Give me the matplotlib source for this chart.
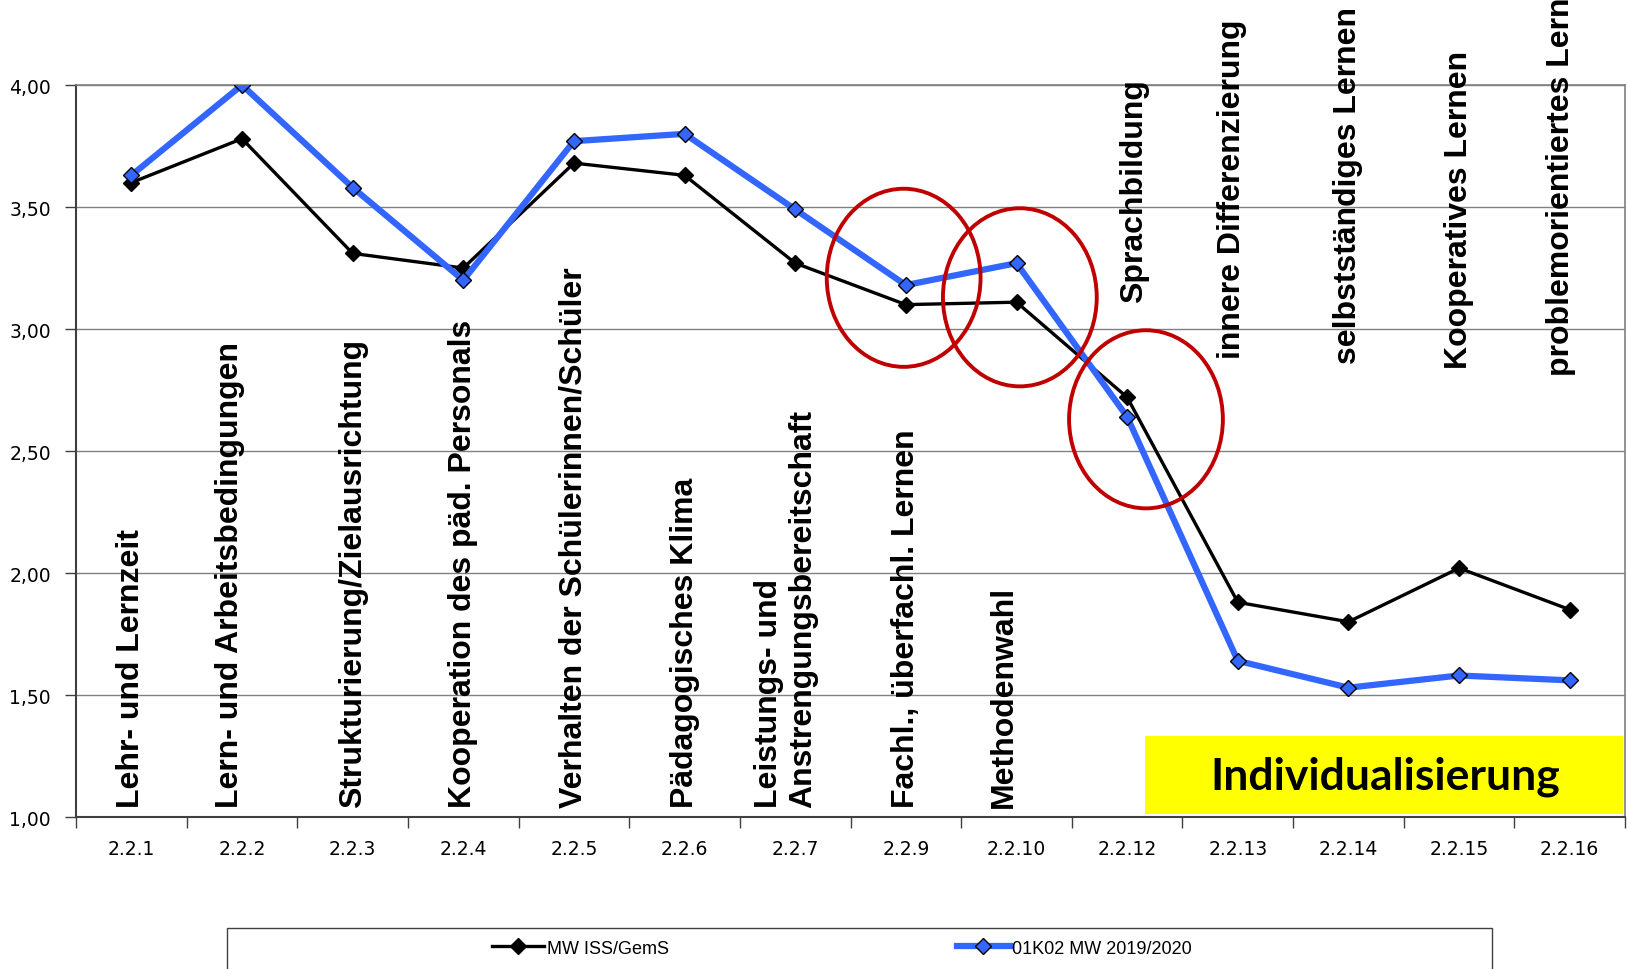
import matplotlib.pyplot as plt
from matplotlib.patches import Ellipse, Rectangle
from matplotlib.lines import Line2D

# Data
codes = ["2.2.1", "2.2.2", "2.2.3", "2.2.4", "2.2.5", "2.2.6", "2.2.7",
         "2.2.9", "2.2.10", "2.2.12", "2.2.13", "2.2.14", "2.2.15", "2.2.16"]
names = [
    "Lehr- und Lernzeit",
    "Lern- und Arbeitsbedingungen",
    "Strukturierung/Zielausrichtung",
    "Kooperation des päd. Personals",
    "Verhalten der Schülerinnen/Schüler",
    "Pädagogisches Klima",
    "Leistungs- und\nAnstrengungsbereitschaft",
    "Fachl., überfachl. Lernen",
    "Methodenwahl",
    "Sprachbildung",
    "innere Differenzierung",
    "selbstständiges Lernen",
    "Kooperatives Lernen",
    "problemorientiertes Lernen",
]
mw_iss = [3.60, 3.78, 3.31, 3.25, 3.68, 3.63, 3.27, 3.10, 3.11, 2.72, 1.88, 1.80, 2.02, 1.85]
k02 = [3.63, 4.00, 3.58, 3.20, 3.77, 3.80, 3.49, 3.18, 3.27, 2.64, 1.64, 1.53, 1.58, 1.56]
series_names = ["MW ISS/GemS", "01K02 MW 2019/2020"]

# label placement (bottom of rotated text, in data units) and small x shifts
label_base = [1.04] * 9 + [3.11, 2.88, 2.86, 2.84, 2.81]
label_dx = [0, -0.11, 0, 0, 0, 0, -0.08, 0, -0.11, 0.06, -0.05, 0, 0, -0.08]

black = "#000000"
blue = "#3366ff"
red = "#c00000"
grey = "#808080"

fig = plt.figure(figsize=(16.28, 9.70), dpi=100)
ax = fig.add_axes([0.0467, 0.1567, 0.9515, 0.7546])

x = list(range(len(codes)))

ax.plot(x, mw_iss, color=black, lw=2.4, marker="D", ms=8,
        mfc=black, mec=black, zorder=4)
ax.plot(x, k02, color=blue, lw=4.5, marker="D", ms=8,
        mfc=blue, mec=black, mew=1.0, zorder=5)

ax.set_xlim(-0.5, len(codes) - 0.5)
ax.set_ylim(1.0, 4.0)
ax.set_yticks([1.0, 1.5, 2.0, 2.5, 3.0, 3.5, 4.0])
ax.set_yticklabels([f"{v:.2f}".replace(".", ",") for v in ax.get_yticks()],
                   fontsize=13.5)
ax.set_xticks(x)
ax.set_xticklabels(codes, fontsize=13.5)
ax.set_xticks([i - 0.5 for i in range(len(codes) + 1)], minor=True)
ax.tick_params(axis="x", which="major", length=0, pad=16)
ax.tick_params(axis="x", which="minor", length=8, width=1, color="#404040",
               direction="out")
ax.tick_params(axis="y", length=8, width=1, color="#404040", direction="out",
               pad=10)
ax.yaxis.grid(True, color=grey, lw=1)
ax.set_axisbelow(True)
for side in ["left", "bottom"]:
    ax.spines[side].set_color("#404040")
    ax.spines[side].set_linewidth(1.5)
for side in ["top", "right"]:
    ax.spines[side].set_color(grey)
    ax.spines[side].set_linewidth(1.2)

# rotated category names
for i, name in enumerate(names):
    ax.text(i + label_dx[i], label_base[i], name, rotation=90,
            ha="center", va="bottom", multialignment="left",
            family="Liberation Sans", weight="bold", fontsize=23,
            zorder=6, clip_on=False)

# red highlight ellipses
for cx, cy in [(6.98, 3.21), (8.03, 3.13), (9.17, 2.63)]:
    ax.add_patch(Ellipse((cx, cy), 1.39, 0.73, fill=False,
                         edgecolor=red, lw=2.8, zorder=7))

# yellow box
ax.add_patch(Rectangle((9.165, 1.013), 4.315, 0.317, facecolor="#ffff00",
                       edgecolor="none", zorder=3))
ax.text(11.33, 1.17, "Individualisierung", ha="center", va="center",
        family="Lato", weight="bold", fontsize=32, zorder=6)

# legend with frame cut by the figure edge
fig.patches.append(Rectangle((0.1394, -0.1), 0.777, 0.1423,
                             transform=fig.transFigure, fill=False,
                             edgecolor="#404040", lw=1))
h1 = Line2D([], [], color=black, lw=2.4, marker="D", ms=8, mfc=black, mec=black)
h2 = Line2D([], [], color=blue, lw=4.5, marker="D", ms=8, mfc=blue, mec=black)
for h, lab, xa in [(h1, series_names[0], 0.302), (h2, series_names[1], 0.588)]:
    fig.legend([h], [lab], loc="center left", bbox_to_anchor=(xa, 0.0216),
               frameon=False, borderaxespad=0, borderpad=0, handlelength=2.9,
               handletextpad=0.15, prop={"family": "Liberation Sans",
                                         "size": 13})

fig.savefig("out.png", dpi=100)
